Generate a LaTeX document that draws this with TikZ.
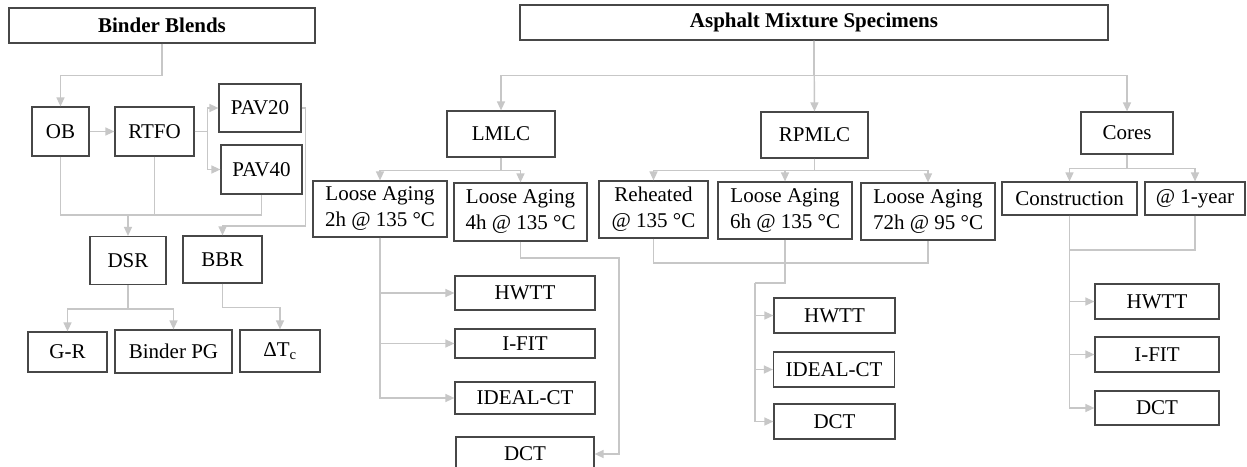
\documentclass[tikz,border=0pt]{standalone}
\usepackage{fontspec}
\setmainfont{Liberation Serif}
\usetikzlibrary{arrows.meta}

\begin{document}
\begin{tikzpicture}[x=1pt,y=-1pt,
    box/.style={draw=black!72,line width=1.2pt,fill=white,inner sep=1pt,align=center,
      font=\fontsize{21}{26}\selectfont},
    head/.style={box,font=\fontsize{21}{26}\selectfont\bfseries},
    link/.style={draw=black!22,line width=1.4pt},
    conn/.style={link,-{Triangle[length=9pt,width=8pt]}}]
    \path[use as bounding box,fill=white] (0,0) rectangle (1247,466);

    % binder side
    \node[head,minimum width=306pt,minimum height=35pt] (bb) at (162,25.5) {Binder Blends};
    \node[box,minimum width=57pt,minimum height=49pt] (ob) at (60.5,131.5) {OB};
    \node[box,minimum width=79pt,minimum height=49pt] (rtfo) at (154.5,131.5) {RTFO};
    \node[box,minimum width=82pt,minimum height=48pt] (pav20) at (260,108) {PAV20};
    \node[box,minimum width=81pt,minimum height=49pt] (pav40) at (261.5,169.5) {PAV40};
    \node[box,minimum width=76pt,minimum height=48pt] (dsr) at (128,260.5) {DSR};
    \node[box,minimum width=79pt,minimum height=47pt] (bbr) at (222.5,259.5) {BBR};
    \node[box,minimum width=79pt,minimum height=40pt] (gr) at (67.5,352) {G-R};
    \node[box,minimum width=117pt,minimum height=43pt] (bpg) at (173.5,351.5) {Binder PG};
    \node[box,minimum width=80pt,minimum height=42pt] (dtc) at (280,351) {ΔT\textsubscript{c}};

    \coordinate (bj) at (128,215);
    \draw[conn] (bb.south) -- ++(0,32) -| (ob.north);
    \draw[conn] (ob.east) -- (rtfo.west);
    \draw[conn] (rtfo.east) -- ++(13,0) |- (pav20.west);
    \draw[conn] (rtfo.east) -- ++(13,0) |- (pav40.west);
    \draw[link] (ob.south) |- (bj) -| (pav40.south);
    \draw[link] (rtfo.south) -- (rtfo.south |- bj);
    \draw[conn] (bj) -- (dsr.north);
    \draw[conn] (pav20.east) -- ++(4,0) |- (bbr.north |- 0,226) -- (bbr.north);
    \draw[conn] (dsr.south) -- ++(0,24) -| (gr.north);
    \draw[conn] (dsr.south) -- ++(0,24) -| (bpg.north);
    \draw[conn] (bbr.south) -- ++(0,24) -| (dtc.north);

    % mixture side
    \node[head,minimum width=588pt,minimum height=35pt] (ams) at (814,22.5) {Asphalt Mixture Specimens};
    \node[box,minimum width=108pt,minimum height=46pt] (lmlc) at (501,134) {LMLC};
    \node[box,minimum width=107pt,minimum height=46pt] (rpmlc) at (814.5,135) {RPMLC};
    \node[box,minimum width=92pt,minimum height=42pt] (cores) at (1127,133) {Cores};
    \node[box,minimum width=134pt,minimum height=56pt] (la2) at (380,209) {Loose Aging\\2h @ 135 °C};
    \node[box,minimum width=133pt,minimum height=58pt] (la4) at (520.5,212) {Loose Aging\\4h @ 135 °C};
    \node[box,minimum width=109pt,minimum height=57pt] (reh) at (653.5,209.5) {Reheated\\@ 135 °C};
    \node[box,minimum width=134pt,minimum height=57pt] (la6) at (785,210.5) {Loose Aging\\6h @ 135 °C};
    \node[box,minimum width=134pt,minimum height=57pt] (la72) at (928,211.5) {Loose Aging\\72h @ 95 °C};
    \node[box,minimum width=135pt,minimum height=33pt] (con) at (1069.5,198.5) {Construction};
    \node[box,minimum width=100pt,minimum height=33pt] (yr1) at (1195,198.5) {@ 1-year};

    \node[box,minimum width=140pt,minimum height=34pt] (hw1) at (525,293) {HWTT};
    \node[box,minimum width=140pt,minimum height=29pt] (if1) at (525,343.5) {I-FIT};
    \node[box,minimum width=140pt,minimum height=32pt] (ic1) at (525,398) {IDEAL-CT};
    \node[box,minimum width=138pt,minimum height=34pt] (dct1) at (525,454) {DCT};
    \node[box,minimum width=121pt,minimum height=35pt] (hw2) at (834.5,315.5) {HWTT};
    \node[box,minimum width=121pt,minimum height=35pt] (ic2) at (834,369.5) {IDEAL-CT};
    \node[box,minimum width=121pt,minimum height=35pt] (dct2) at (834.5,421.5) {DCT};
    \node[box,minimum width=124pt,minimum height=35pt] (hw3) at (1157,301.5) {HWTT};
    \node[box,minimum width=124pt,minimum height=35pt] (if3) at (1157,354.5) {I-FIT};
    \node[box,minimum width=124pt,minimum height=34pt] (dct3) at (1157,408) {DCT};

    \draw[conn] (ams.south) -- (rpmlc.north);
    \draw[conn] (ams.south) -- ++(0,35) -| (lmlc.north);
    \draw[conn] (ams.south) -- ++(0,35) -| (cores.north);
    \draw[conn] (lmlc.south) -- ++(0,13) -| (la2.north);
    \draw[conn] (lmlc.south) -- ++(0,13) -| (la4.north);
    \draw[conn] (rpmlc.south) -- ++(0,12) -| (reh.north);
    \draw[conn] (rpmlc.south) -- ++(0,12) -| (la6.north);
    \draw[conn] (rpmlc.south) -- ++(0,12) -| (la72.north);
    \draw[conn] (cores.south) -- ++(0,14) -| (con.north);
    \draw[conn] (cores.south) -- ++(0,14) -| (yr1.north);

    % tests
    \coordinate (lk) at (619,258);
    \coordinate (rk) at (755,283);
    \draw[conn] (la2.south) |- (hw1.west);
    \draw[conn] (la2.south) |- (if1.west);
    \draw[conn] (la2.south) |- (ic1.west);
    \draw[conn] (la4.south) |- (lk) |- (dct1.east);
    \draw[link] (reh.south) |- (la72.south |- 0,263) -- (la72.south);
    \draw[link] (la6.south) |- (rk);
    \draw[conn] (rk) |- (hw2.west);
    \draw[conn] (rk) |- (ic2.west);
    \draw[conn] (rk) |- (dct2.west);
    \draw[link] (yr1.south) |- (con.south |- 0,250);
    \draw[conn] (con.south) |- (hw3.west);
    \draw[conn] (con.south) |- (if3.west);
    \draw[conn] (con.south) |- (dct3.west);
\end{tikzpicture}
\end{document}
